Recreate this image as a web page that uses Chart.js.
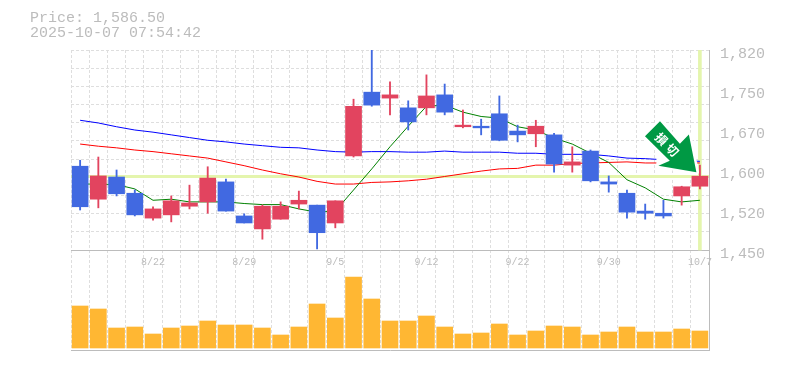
<!DOCTYPE html>
<html>
<head>
<meta charset="utf-8">
<style>html,body{margin:0;padding:0;background:#fff}canvas{display:block}</style>
<script src="https://cdn.jsdelivr.net/npm/chart.js@4"></script>
</head>
<body>
<canvas id="c" width="785" height="370"></canvas>
<script>
const dates = ['8/18','8/19','8/20','8/21','8/22','8/25','8/26','8/27','8/28','8/29','9/1','9/2','9/3','9/4','9/5','9/8','9/9','9/10','9/11','9/12','9/16','9/17','9/18','9/19','9/22','9/24','9/25','9/26','9/29','9/30','10/1','10/2','10/3','10/6','10/7'];
const shownDates = ['8/22','8/29','9/5','9/12','9/22','9/30','10/7'];
const open  = [1605,1544,1585,1555,1509,1515,1531,1539,1576,1513,1489,1507,1535,1533,1500,1624,1742,1731,1713,1713,1737,1678,1679,1702,1670,1665,1663,1607,1633,1576,1555,1522,1518,1550,1568];
const high  = [1616,1622,1598,1561,1530,1550,1570,1604,1581,1517,1533,1539,1559,1533,1541,1729,1820,1761,1726,1774,1757,1709,1692,1735,1681,1690,1666,1641,1635,1587,1561,1535,1542,1568,1607];
const low   = [1524,1528,1550,1513,1505,1502,1526,1518,1522,1500,1470,1507,1526,1452,1491,1622,1716,1700,1672,1700,1700,1676,1663,1652,1650,1641,1594,1594,1576,1557,1509,1507,1509,1533,1563];
const close = [1530,1587,1554,1515,1526,1541,1537,1583,1522,1500,1531,1531,1542,1482,1541,1716,1718,1737,1687,1735,1705,1681,1676,1653,1663,1679,1609,1613,1578,1572,1520,1518,1513,1567,1586.5];
const maShort = [1572,1572,1571,1563,1542,1544,1539,1539,1539,1536,1534,1534,1526,1520,1522,1561,1600,1641,1679,1716,1718,1705,1697,1694,1678,1672,1657,1646,1629,1612,1580,1565,1544,1539,1542];
const maMid   = [1646,1642,1639,1635,1632,1628,1624,1620,1613,1606,1598,1591,1585,1577,1572,1572,1575,1576,1578,1581,1586,1591,1596,1600,1601,1607,1607,1610,1611,1612,1613,1611,1611,1611,1611];
const maLong  = [1690,1685,1678,1672,1668,1663,1658,1653,1650,1646,1643,1640,1639,1635,1632,1631,1632,1632,1631,1631,1633,1631,1631,1631,1629,1629,1627,1627,1627,1624,1620,1619,1617,1616,1614];
const volume  = [42000,39000,20000,21000,14000,20000,22000,27000,23000,23000,20000,13000,21000,44000,30000,71000,49000,27000,27000,32000,21000,14000,15000,24000,13000,17000,22000,21000,13000,16000,21000,16000,16000,19000,17000];
const priceTicks  = [1820,1746,1672,1598,1524,1450];
const priceLabels = ['1,820','1,750','1,670','1,600','1,520','1,450'];
const gridLevels  = [1820,1786.4,1752.7,1719.1,1685.5,1651.8,1618.2,1584.5,1550.9,1517.3,1483.6,1450];
const currentPrice = 1586.5;
const headerLines = ['Price: 1,586.50','2025-10-07 07:54:42'];
const signalText = ['損','切'];

const GRAY = '#bcbcbc', GRID = '#dedede', YELLOW = '#e4f5ad';
const UP = '#e2445f', DOWN = '#4169e1';
const isUp = i => close[i] >= open[i];
const last = dates.length - 1;

const pricePlugin = {
  id: 'extras',
  beforeDatasetsDraw(chart) {
    const {ctx, chartArea: a, scales: {y}} = chart;
    ctx.save();
    ctx.strokeStyle = YELLOW; ctx.lineWidth = 3;
    const py = Math.round(y.getPixelForValue(currentPrice));
    ctx.beginPath(); ctx.moveTo(a.left, py + .5); ctx.lineTo(a.right, py + .5); ctx.stroke();
    ctx.restore();
  },
  afterDatasetsDraw(chart) {
    const {ctx, scales: {x, y}} = chart;
    const tx = x.getPixelForValue(last) - 3.5;
    const ty = y.getPixelForValue(high[last]) + 7;
    const pts = [[-36.4,-51],[-51.4,-36],[-26.6,-11.5],[-38,-6.5],[0,0],[-7.5,-37.7],[-16.5,-28.4]];
    ctx.save();
    ctx.translate(tx, ty);
    ctx.fillStyle = '#fff';
    ctx.fillRect(-40, -14, 37, 10);
    ctx.beginPath();
    pts.forEach((p, i) => i ? ctx.lineTo(p[0], p[1]) : ctx.moveTo(p[0], p[1]));
    ctx.closePath();
    ctx.strokeStyle = '#fff'; ctx.lineWidth = 5; ctx.lineJoin = 'round'; ctx.stroke();
    ctx.fillStyle = '#009944'; ctx.fill();
    ctx.fillStyle = '#fff';
    ctx.font = 'bold 12px "Noto Sans CJK JP"';
    ctx.textAlign = 'center'; ctx.textBaseline = 'middle';
    [[-35,-33],[-24,-22]].forEach((p, i) => {
      ctx.save(); ctx.translate(p[0], p[1]); ctx.rotate(Math.PI / 4);
      ctx.fillText(signalText[i], 0, 0); ctx.restore();
    });
    ctx.restore();
  },
  afterDraw(chart) {
    const {ctx} = chart;
    ctx.save();
    ctx.fillStyle = GRAY;
    ctx.font = '15px "Liberation Mono"';
    ctx.textBaseline = 'middle';
    headerLines.forEach((t, i) => ctx.fillText(t, 30, 18 + i * 15));
    ctx.restore();
  }
};

new Chart(document.getElementById('c'), {
  data: {
    labels: dates,
    datasets: [
      {type:'bar', label:'body', data: open.map((o,i)=>[o,close[i]]), yAxisID:'y', grouped:false, barThickness:16,
       backgroundColor: open.map((_,i)=>isUp(i)?UP:DOWN), order:1},
      {type:'bar', label:'wick', data: low.map((l,i)=>[l,high[i]]), yAxisID:'y', grouped:false, barThickness:1.2,
       backgroundColor: open.map((_,i)=>isUp(i)?UP:DOWN), order:2},
      {type:'line', label:'short', data: maShort, yAxisID:'y', borderColor:'#008000', borderWidth:1, pointRadius:0, tension:0, order:3},
      {type:'line', label:'mid', data: maMid, yAxisID:'y', borderColor:'#ff0000', borderWidth:1, pointRadius:0, tension:0, order:4},
      {type:'line', label:'long', data: maLong, yAxisID:'y', borderColor:'#0000ff', borderWidth:1, pointRadius:0, tension:0, order:5},
      {type:'bar', label:'now', data: dates.map((_,i)=> i===last ? [priceTicks[5],priceTicks[0]] : null), yAxisID:'y', grouped:false, barThickness:3,
       backgroundColor: YELLOW, order:6},
      {type:'bar', label:'volume', data: volume, yAxisID:'yv', grouped:false, barThickness:16, backgroundColor:'#ffb733', order:7}
    ]
  },
  options: {
    responsive:false, animation:false, events:[],
    layout:{padding:{left:71, top:50, bottom:20, right:0}},
    plugins:{legend:{display:false}, tooltip:{enabled:false}, title:{display:false}},
    scales:{
      x:{
        type:'category', position:{y:1450},
        grid:{offset:true, color:GRID, drawTicks:false},
        border:{color:GRAY, width:1, dash:[3,2]},
        ticks:{autoSkip:false, maxRotation:0, minRotation:0, padding:6, color:GRAY,
          font:{family:'"Liberation Mono"', size:10},
          callback(v){ const d = this.getLabelForValue(v); return shownDates.includes(d) ? d : ''; }}
      },
      xb:{
        type:'category', position:'bottom',
        grid:{display:false, drawTicks:false},
        border:{color:GRAY, width:1},
        ticks:{display:false}
      },
      y:{
        type:'linear', position:'right', min:1265, max:1820,
        grid:{display:false, drawTicks:false},
        border:{color:GRAY, width:1},
        afterBuildTicks(s){ s.ticks = priceTicks.map(v=>({value:v})); },
        afterFit(s){ s.width = 76; },
        ticks:{padding:11, crossAlign:'near', labelOffset:4, color:GRAY,
          font:{family:'"Liberation Mono"', size:15},
          callback(v){ return priceLabels[priceTicks.indexOf(v)]; }}
      },
      yGrid:{
        type:'linear', position:'left', min:1265, max:1820,
        grid:{color:GRID, drawTicks:false},
        border:{display:false, dash:[3,2]},
        afterBuildTicks(s){ s.ticks = gridLevels.map(v=>({value:v})); },
        afterFit(s){ s.width = 0; },
        ticks:{display:false}
      },
      yv:{type:'linear', display:false, min:-2000, max:298000}
    }
  },
  plugins:[pricePlugin]
});
</script>
</body>
</html>
